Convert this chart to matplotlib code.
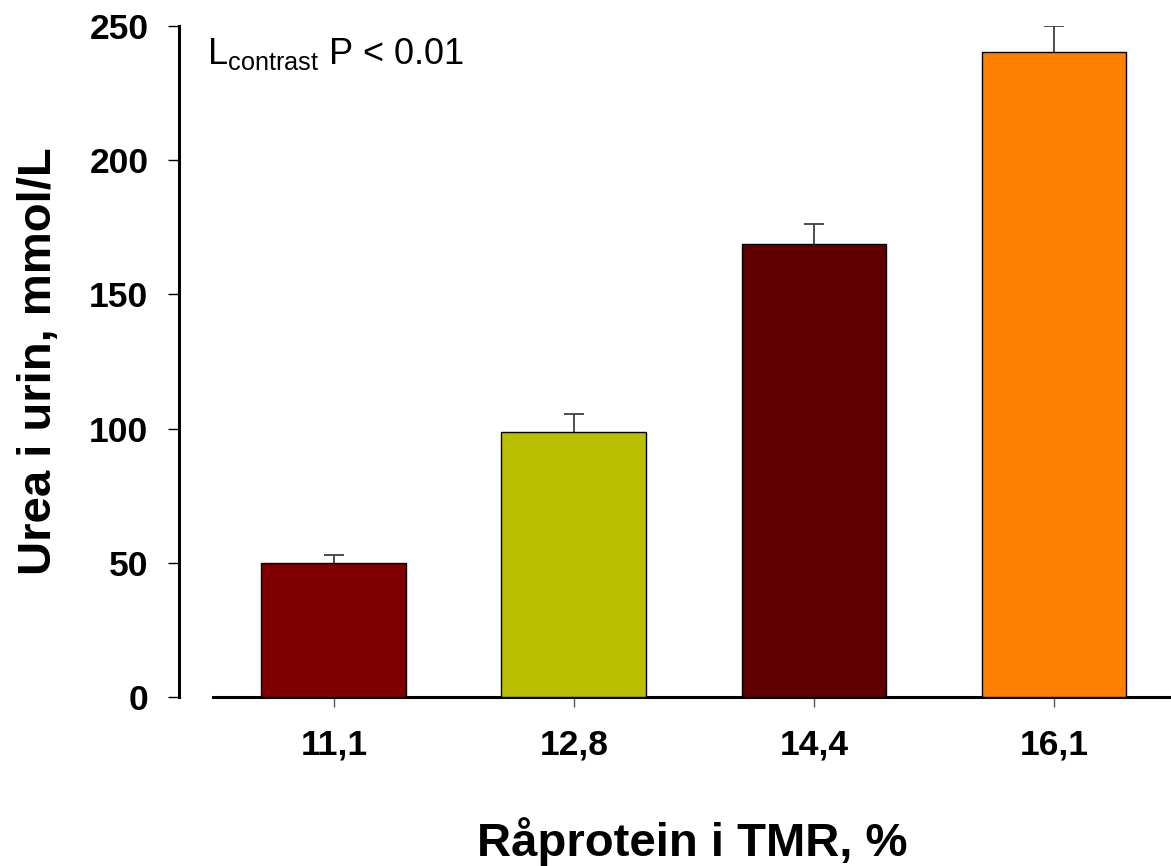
"""Urea i urin vs. råprotein i TMR - bar chart with SE bars."""
import numpy as np
import matplotlib
matplotlib.use("Agg")
import matplotlib.pyplot as plt

# data
protein_levels = ["11,1", "12,8", "14,4", "16,1"]
urea_means = [50.0, 98.7, 168.7, 240.2]
urea_se = [3.0, 6.7, 7.4, 9.9]
bar_colors = ["#800000", "#BABF00", "#600000", "#FF8000"]
y_ticks = [0, 50, 100, 150, 200, 250]

plt.rcParams["font.family"] = ["Liberation Sans", "DejaVu Sans"]
plt.rcParams["mathtext.fontset"] = "custom"
plt.rcParams["mathtext.rm"] = "Liberation Sans"
plt.rcParams["mathtext.it"] = "Liberation Sans:italic"
plt.rcParams["mathtext.bf"] = "Liberation Sans:bold"

fig = plt.figure(figsize=(11.71, 8.66), dpi=100)
ax = fig.add_axes([0.1819, 0.1952, 0.8181, 0.7748])

x = np.arange(len(protein_levels))
means = np.array(urea_means)
se = np.array(urea_se)
ax.bar(x, means, width=0.604, color=bar_colors, edgecolor="black",
       linewidth=1.0, zorder=3)
# upper error bars only: stem + top cap
ax.errorbar(x, means, yerr=[np.zeros(len(se)), se], fmt="none",
            ecolor="#404040", elinewidth=1.3, capsize=0, zorder=2)
ax.plot(x, means + se, ls="none", marker="_", markersize=14.4,
        markeredgewidth=1.3, color="#404040", zorder=2)

ax.set_xlim(-0.504, 3.4875)
ax.set_ylim(0, 250)

# axis styling: detached y axis, open frame
for side in ["top", "right"]:
    ax.spines[side].set_visible(False)
ax.spines["left"].set_position(("outward", 24.5))
ax.spines["left"].set_bounds(0, 250)
ax.spines["left"].set_linewidth(2.2)
ax.spines["bottom"].set_linewidth(2.2)

ax.set_yticks(y_ticks)
ax.set_xticks(x)
ax.set_xticklabels(protein_levels)
ax.tick_params(axis="y", direction="out", length=8, width=1.0, pad=14,
               labelsize=25.5)
ax.tick_params(axis="x", direction="out", length=7, width=1.0, color="#555555",
               pad=16, labelsize=25.5)
for lbl in ax.get_xticklabels() + ax.get_yticklabels():
    lbl.set_fontweight("bold")

ax.set_xlabel("Råprotein i TMR, %", fontsize=34, fontweight="bold", labelpad=40)
ax.set_ylabel("Urea i urin, mmol/L", fontsize=34, fontweight="bold", labelpad=20)

ax.text(-0.529, 236, r"L$_{\mathrm{contrast}}$ P < 0.01", fontsize=26,
        va="baseline", ha="left")

fig.savefig("out.png", dpi=100)
